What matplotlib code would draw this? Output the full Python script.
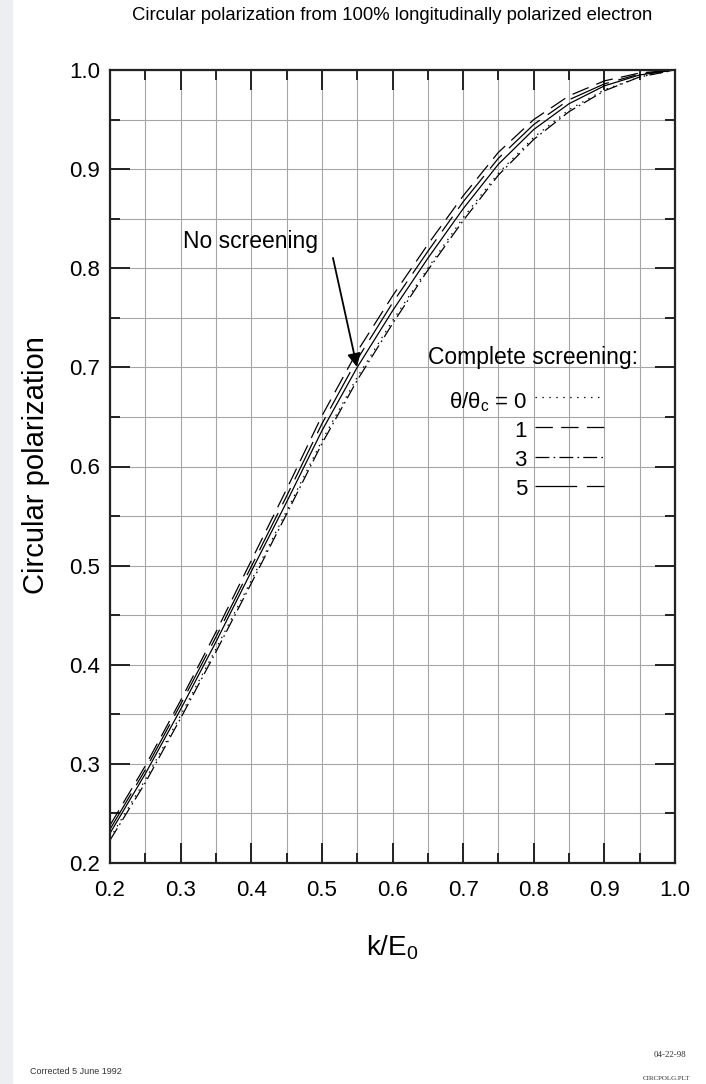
import matplotlib
matplotlib.use('Agg')
import matplotlib.pyplot as plt
from matplotlib.patches import Rectangle

# ---------------- data ----------------
k_over_E0 = [0.20, 0.25, 0.30, 0.35, 0.40, 0.45, 0.50, 0.55, 0.60,
             0.65, 0.70, 0.75, 0.80, 0.85, 0.90, 0.95, 1.00]
no_screening = [0.230, 0.290, 0.355, 0.423, 0.494, 0.564, 0.636, 0.700, 0.757,
                0.810, 0.860, 0.905, 0.940, 0.966, 0.984, 0.995, 1.000]
cs_theta0 = [0.225, 0.284, 0.349, 0.416, 0.485, 0.555, 0.626, 0.690, 0.747,
             0.800, 0.851, 0.896, 0.932, 0.960, 0.980, 0.993, 1.000]
cs_theta1 = [0.238, 0.298, 0.364, 0.433, 0.505, 0.577, 0.651, 0.716, 0.772,
             0.824, 0.873, 0.917, 0.950, 0.974, 0.989, 0.997, 1.000]
cs_theta3 = [0.223, 0.281, 0.346, 0.413, 0.482, 0.552, 0.623, 0.687, 0.744,
             0.798, 0.848, 0.894, 0.930, 0.958, 0.979, 0.993, 1.000]
cs_theta5 = [0.234, 0.294, 0.360, 0.428, 0.499, 0.570, 0.643, 0.708, 0.765,
             0.817, 0.867, 0.911, 0.945, 0.970, 0.986, 0.996, 1.000]

x_major = [0.2, 0.3, 0.4, 0.5, 0.6, 0.7, 0.8, 0.9, 1.0]
x_minor = [0.25, 0.35, 0.45, 0.55, 0.65, 0.75, 0.85, 0.95]
y_major = [0.2, 0.3, 0.4, 0.5, 0.6, 0.7, 0.8, 0.9, 1.0]
y_minor = [0.25, 0.35, 0.45, 0.55, 0.65, 0.75, 0.85, 0.95]
x_labels = ['0.2', '0.3', '0.4', '0.5', '0.6', '0.7', '0.8', '0.9', '1.0']
y_labels = ['0.2', '0.3', '0.4', '0.5', '0.6', '0.7', '0.8', '0.9', '1.0']
legend_values = ['0', '1', '3', '5']

# ---------------- style ----------------
plt.rcParams['font.family'] = ['Liberation Sans', 'DejaVu Sans']
plt.rcParams['mathtext.fontset'] = 'custom'
plt.rcParams['mathtext.rm'] = 'Liberation Sans'
plt.rcParams['mathtext.it'] = 'Liberation Sans'
plt.rcParams['mathtext.default'] = 'regular'
plt.rcParams['lines.scale_dashes'] = False

W, H = 706, 1084
fig = plt.figure(figsize=(W / 100, H / 100), dpi=100)
fig.patch.set_facecolor('white')
fig.patches.append(Rectangle((0, 0), 13 / W, 1, transform=fig.transFigure,
                             facecolor='#eceef1', edgecolor='none', zorder=0))

ax = fig.add_axes([110 / W, 1 - 863 / H, 565 / W, 793 / H])
ax.set_xlim(0.2, 1.0)
ax.set_ylim(0.2, 1.0)

styles = {
    'dotted': (0, (1.0, 4.0)),
    'long': (0, (12.5, 6.0)),
    'dashdot': (0, (10.0, 3.0, 1.2, 3.0)),
    'longshort': (0, (30.0, 7.0, 13.0, 7.0)),
}
lw = 0.9
ax.plot(k_over_E0, no_screening, color='black', lw=lw, ls='-')
ax.plot(k_over_E0, cs_theta0, color='black', lw=lw, ls=styles['dotted'])
ax.plot(k_over_E0, cs_theta1, color='black', lw=lw, ls=styles['long'])
ax.plot(k_over_E0, cs_theta3, color='black', lw=lw, ls=styles['dashdot'])
ax.plot(k_over_E0, cs_theta5, color='black', lw=lw, ls=styles['longshort'])

# ticks / grid
ax.set_xticks(x_major)
ax.set_xticklabels(x_labels)
ax.set_yticks(y_major)
ax.set_yticklabels(y_labels)
ax.set_xticks(x_minor, minor=True)
ax.set_yticks(y_minor, minor=True)
ax.tick_params(which='both', direction='in', top=True, right=True, color='#222222')
ax.tick_params(which='major', length=14.5, width=1.4, labelsize=16)
ax.tick_params(which='minor', length=7.2, width=1.4)
ax.tick_params(axis='x', which='major', pad=12)
ax.tick_params(axis='y', which='major', pad=7)
ax.grid(which='both', color='#a6a6a6', lw=0.8)
ax.set_axisbelow(True)
for sp in ax.spines.values():
    sp.set_linewidth(1.6)
    sp.set_color('#222222')

# annotations
ax.text(0.3034, 0.8265, 'No screening', fontsize=16.5, ha='left', va='center')
ax.annotate('', xy=(0.5497, 0.7004), xytext=(0.5157, 0.8104),
            arrowprops=dict(arrowstyle='-|>', color='black', lw=1.3,
                            mutation_scale=20, shrinkA=0, shrinkB=0))

ax.text(0.6503, 0.7095, 'Complete screening:', fontsize=16.5, ha='left', va='center')
label_texts = [r'$\theta/\theta_c$ = ' + legend_values[0]] + legend_values[1:]
label_base = [0.659, 0.6298, 0.6005, 0.5713]
sample_y = [0.6701, 0.6398, 0.6096, 0.5803]
sample_styles = [styles['dotted'], styles['long'], styles['dashdot'], styles['longshort']]
for txt, yb, ys, st in zip(label_texts, label_base, sample_y, sample_styles):
    ax.text(0.7904, yb, txt, fontsize=16, ha='right', va='baseline')
    ax.plot([0.8018, 0.8995], [ys, ys], color='black', lw=lw, ls=st)

# labels and titles
fig.text(392 / W, 1 - 16 / H,
         'Circular polarization from 100% longitudinally polarized electron',
         fontsize=13.3, ha='center', va='center')
fig.text(36 / W, 1 - 465 / H, 'Circular polarization', fontsize=21,
         rotation=90, ha='center', va='center')
fig.text(392 / W, 1 - 948 / H, r'k/E$_0$', fontsize=20, ha='center', va='center')

fig.text(30 / W, 1 - 1071 / H, 'Corrected 5 June 1992', fontsize=6.5,
         ha='left', va='center', color='#333333')
fig.text(686 / W, 1 - 1055 / H, '04-22-98', fontsize=6.5, family='Liberation Serif',
         ha='right', va='center', color='#333333')
fig.text(690 / W, 1 - 1079 / H, 'CIRCPOLG.PLT', fontsize=5.0, family='Liberation Serif',
         ha='right', va='center', color='#333333')

fig.savefig('out.png', dpi=100)
